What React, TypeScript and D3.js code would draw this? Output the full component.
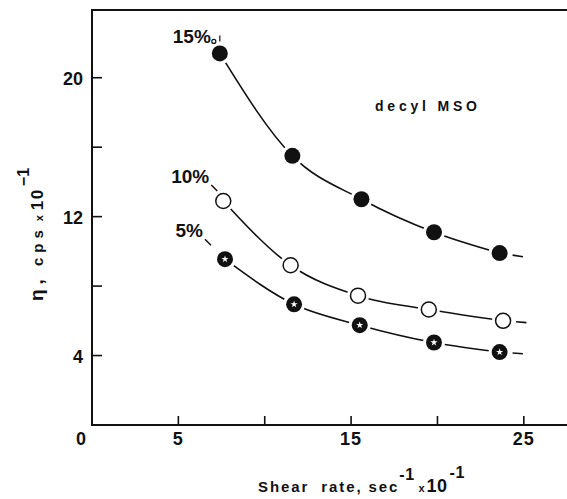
import React, { useEffect, useRef } from 'react';
import * as d3 from 'd3';

// shear rate (sec^-1 x 10^-1)
const shear15 = [7.4, 11.6, 15.6, 19.8, 23.6];
const visc15 = [21.4, 15.5, 13.0, 11.1, 9.9];
const shear10 = [7.6, 11.5, 15.4, 19.5, 23.8];
const visc10 = [12.9, 9.2, 7.45, 6.65, 6.0];
const shear5 = [7.7, 11.7, 15.5, 19.8, 23.6];
const visc5 = [9.55, 6.95, 5.75, 4.75, 4.2];

const seriesNames = ['15%', '10%', '5%'];
const xTicks = [5, 10, 15, 20, 25];
const xTickLabels = ['5', '', '15', '', '25'];
const yTicks = [4, 8, 12, 16, 20];
const yTickLabels = ['4', '', '12', '', '20'];

const W = 567;
const H = 499;
const FONT = '"Liberation Sans", Arial, sans-serif';

const App = () => {
  const svgRef = useRef<SVGSVGElement>(null);

  useEffect(() => {
    const svg = d3.select(svgRef.current);
    svg.selectAll('*').remove();

    const x = d3.scaleLinear().domain([0, 27.5]).range([92, 567]);
    const y = d3.scaleLinear().domain([0, 23.9]).range([425, 10]);

    // frame (left, top, bottom - right side runs off the page)
    const frame = svg.append('g').attr('stroke', '#111').attr('stroke-width', 2).attr('fill', 'none');
    frame.append('line').attr('x1', x(0)).attr('y1', y(0)).attr('x2', x(0)).attr('y2', y(23.9));
    frame.append('line').attr('x1', x(0) - 1).attr('y1', y(23.9)).attr('x2', W).attr('y2', y(23.9));
    frame.append('line').attr('x1', x(0) - 1).attr('y1', y(0)).attr('x2', W).attr('y2', y(0));

    // ticks point inward
    svg.selectAll('.xt')
      .data(xTicks)
      .enter()
      .append('line')
      .attr('x1', d => x(d))
      .attr('x2', d => x(d))
      .attr('y1', y(0))
      .attr('y2', y(0) - 9)
      .attr('stroke', '#111')
      .attr('stroke-width', 1.6);

    svg.selectAll('.yt')
      .data(yTicks)
      .enter()
      .append('line')
      .attr('x1', x(0))
      .attr('x2', x(0) + 10)
      .attr('y1', d => y(d))
      .attr('y2', d => y(d))
      .attr('stroke', '#111')
      .attr('stroke-width', 1.6);

    const lab = svg.append('g')
      .attr('font-family', FONT)
      .attr('font-weight', 'bold')
      .attr('font-size', 18)
      .attr('fill', '#111');

    lab.selectAll('.xl')
      .data(xTicks)
      .enter()
      .append('text')
      .attr('x', d => x(d))
      .attr('y', y(0) + 20)
      .attr('text-anchor', 'middle')
      .attr('letter-spacing', 1)
      .text((d, i) => xTickLabels[i]);

    lab.selectAll('.yl')
      .data(yTicks)
      .enter()
      .append('text')
      .attr('x', x(0) - 9)
      .attr('y', d => y(d) + 7)
      .attr('text-anchor', 'end')
      .text((d, i) => yTickLabels[i]);

    // origin
    lab.append('text').attr('x', x(0) - 6).attr('y', y(0) + 20).attr('text-anchor', 'end').text('0');

    // axis titles
    const xt = svg.append('text')
      .attr('x', 258)
      .attr('y', 492)
      .attr('font-family', FONT)
      .attr('font-weight', 'bold')
      .attr('font-size', 15)
      .attr('letter-spacing', 1.9)
      .style('white-space', 'pre')
      .attr('fill', '#111');
    xt.append('tspan').text('Shear  rate, sec');
    xt.append('tspan').attr('dy', -12).attr('dx', 0).attr('font-size', 16).attr('letter-spacing', 0.5).text('-1');
    xt.append('tspan').attr('dy', 12).attr('dx', 4).attr('font-size', 11).text('x');
    xt.append('tspan').attr('font-size', 18).attr('dx', 0).attr('letter-spacing', 0.5).text('10');
    xt.append('tspan').attr('dy', -14).attr('dx', 2).attr('font-size', 16).attr('letter-spacing', 0.5).text('-1');

    const yt = svg.append('text')
      .attr('transform', 'translate(43,301) rotate(-90)')
      .attr('font-family', FONT)
      .attr('font-weight', 'bold')
      .attr('font-size', 15)
      .attr('letter-spacing', 5)
      .attr('fill', '#111');
    yt.append('tspan').attr('font-size', 19).text('η,');
    yt.append('tspan').attr('dx', 8).text('cps');
    yt.append('tspan').attr('dx', 4).attr('font-size', 11).text('x');
    yt.append('tspan').attr('dx', 0).attr('font-size', 17).attr('letter-spacing', 1.5).text('10');
    yt.append('tspan').attr('dy', -14).attr('dx', 2).attr('font-size', 16).attr('letter-spacing', 0).text('−1');

    svg.append('text')
      .attr('x', 375)
      .attr('y', 111)
      .attr('font-family', FONT)
      .attr('font-weight', 'bold')
      .attr('font-size', 14)
      .attr('letter-spacing', 3.8)
      .attr('fill', '#111')
      .text('decyl MSO');

    // series
    const series = [
      { xs: shear15, ys: visc15, kind: 'filled', lx: -9, ly: -10 },
      { xs: shear10, ys: visc10, kind: 'open', lx: -14, ly: -18 },
      { xs: shear5, ys: visc5, kind: 'star', lx: -22, ly: -22 },
    ];

    const line = d3.line<[number, number]>()
      .x(d => x(d[0]))
      .y(d => y(d[1]))
      .curve(d3.curveMonotoneX);

    series.forEach((s, si) => {
      const pts: [number, number][] = s.xs.map((v, i) => [v, s.ys[i]]);
      svg.append('path')
        .attr('d', line(pts))
        .attr('fill', 'none')
        .attr('stroke', '#111')
        .attr('stroke-width', 1.6);

      // little dash past the last point
      const n = pts.length;
      const slope = (pts[n - 1][1] - pts[n - 2][1]) / (pts[n - 1][0] - pts[n - 2][0]);
      const t0 = 0.75, t1 = 1.35;
      svg.append('line')
        .attr('x1', x(pts[n - 1][0] + t0))
        .attr('y1', y(pts[n - 1][1] + slope * t0 * 0.5))
        .attr('x2', x(pts[n - 1][0] + t1))
        .attr('y2', y(pts[n - 1][1] + slope * t1 * 0.5))
        .attr('stroke', '#111')
        .attr('stroke-width', 1.6);

      // white halo to break the line near the markers
      svg.selectAll('.halo' + si)
        .data(pts)
        .enter()
        .append('circle')
        .attr('cx', d => x(d[0]))
        .attr('cy', d => y(d[1]))
        .attr('r', 11)
        .attr('fill', '#fff');

      svg.selectAll('.m' + si)
        .data(pts)
        .enter()
        .append('circle')
        .attr('cx', d => x(d[0]))
        .attr('cy', d => y(d[1]))
        .attr('r', s.kind === 'open' ? 7.5 : 8)
        .attr('fill', s.kind === 'open' ? '#fff' : '#111')
        .attr('stroke', '#111')
        .attr('stroke-width', s.kind === 'open' ? 1.5 : 0);

      if (s.kind === 'star') {
        svg.selectAll('.st' + si)
          .data(pts)
          .enter()
          .append('path')
          .attr('d', d3.symbol().type(d3.symbolStar).size(16)())
          .attr('transform', d => `translate(${x(d[0])},${y(d[1])})`)
          .attr('fill', '#fff');
      }

      // label with its short leader
      const fx = x(pts[0][0]);
      const fy = y(pts[0][1]);
      svg.append('text')
        .attr('x', fx + s.lx)
        .attr('y', fy + s.ly)
        .attr('text-anchor', 'end')
        .attr('font-family', FONT)
        .attr('font-weight', 'bold')
        .attr('font-size', 19)
        .attr('fill', '#111')
        .text(seriesNames[si]);

      if (si === 0) {
        svg.append('circle').attr('cx', fx - 6).attr('cy', fy - 12).attr('r', 2)
          .attr('fill', 'none').attr('stroke', '#111').attr('stroke-width', 1.2);
        svg.append('line').attr('x1', fx).attr('y1', fy - 18).attr('x2', fx).attr('y2', fy - 12)
          .attr('stroke', '#111').attr('stroke-width', 1.2);
      } else {
        svg.append('line')
          .attr('x1', fx + s.lx + 2).attr('y1', fy + s.ly + 2)
          .attr('x2', fx + s.lx + 8).attr('y2', fy + s.ly + 8)
          .attr('stroke', '#111').attr('stroke-width', 1.5);
      }
    });
  }, []);

  return (
    <svg
      ref={svgRef}
      width={W}
      height={H}
      style={{ position: 'absolute', left: 0, top: 0, background: '#fff' }}
    ></svg>
  );
};

export default App;
